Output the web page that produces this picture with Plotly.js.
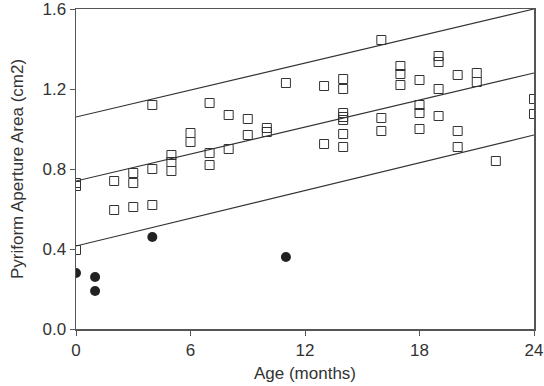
<!DOCTYPE html>
<html>
<head>
<meta charset="utf-8">
<script src="https://cdn.plot.ly/plotly-3.0.1.min.js"></script>
<style>html,body{margin:0;padding:0;background:#fff;}#chart{width:544px;height:386px;}</style>
</head>
<body>
<div id="chart"></div>
<script>
// Open squares (age in months, area in cm2)
const squareAge = [0,0,0,2,2,3,3,3,4,4,4,5,5,5,6,6,7,7,7,8,8,9,9,10,10,11,
  13,13,14,14,14,14,14,14,14,16,16,16,17,17,17,18,18,18,18,19,19,19,19,20,20,20,21,21,22,24,24];
const squareArea = [0.73,0.715,0.395,0.74,0.595,0.78,0.73,0.61,1.12,0.80,0.62,0.87,0.835,0.79,0.98,0.935,1.13,0.88,0.82,1.07,0.90,1.05,0.97,1.005,0.985,1.23,
  1.215,0.925,1.25,1.20,1.08,1.06,1.045,0.975,0.91,1.445,1.055,0.99,1.315,1.275,1.22,1.245,1.12,1.08,1.00,1.365,1.335,1.20,1.065,1.27,0.99,0.91,1.28,1.235,0.84,1.15,1.075];
// Filled circles
const circleAge = [0,1,1,4,11];
const circleArea = [0.28,0.26,0.19,0.46,0.36];
// Regression lines (upper, mean, lower)
const lineAge = [0,24];
const upperLine = [1.06,1.60];
const meanLine = [0.74,1.28];
const lowerLine = [0.415,0.97];

const xTicks = [0,6,12,18,24];
const yTicks = [0,0.4,0.8,1.2,1.6];

const lineStyle = {color:'#333', width:1.2};
const traces = [
  {x:lineAge, y:upperLine, mode:'lines', line:lineStyle, hoverinfo:'skip'},
  {x:lineAge, y:meanLine, mode:'lines', line:lineStyle, hoverinfo:'skip'},
  {x:lineAge, y:lowerLine, mode:'lines', line:lineStyle, hoverinfo:'skip'},
  {x:squareAge, y:squareArea, mode:'markers', cliponaxis:true,
   marker:{symbol:'square-open', size:9, color:'#333', line:{width:1, color:'#333'}}},
  {x:circleAge, y:circleArea, mode:'markers', cliponaxis:true,
   marker:{symbol:'circle', size:10, color:'#222'}}
];

const font = {family:'"Liberation Sans", Arial, sans-serif', size:17, color:'#333'};
const layout = {
  width:544, height:386,
  margin:{l:76, r:10, t:9, b:57},
  showlegend:false,
  paper_bgcolor:'#fff', plot_bgcolor:'#fff',
  font:font,
  xaxis:{range:[0,24], tickvals:xTicks, ticktext:xTicks.map(String),
    showgrid:false, zeroline:false, showline:true, linecolor:'#555', linewidth:1.5, mirror:true,
    ticks:'outside', ticklen:5, tickcolor:'#555', ticklabeloverflow:'allow',
    title:{text:'Age (months)', font:font, standoff:8}},
  yaxis:{range:[0,1.6], tickvals:yTicks, ticktext:yTicks.map(v=>v.toFixed(1)),
    showgrid:false, zeroline:false, showline:true, linecolor:'#555', linewidth:1.5, mirror:true,
    ticks:'outside', ticklen:5, tickcolor:'#555', ticklabeloverflow:'allow',
    title:{text:'Pyriform Aperture Area (cm2)', font:font, standoff:14}}
};
Plotly.newPlot('chart', traces, layout, {displayModeBar:false, staticPlot:true});
</script>
</body>
</html>
